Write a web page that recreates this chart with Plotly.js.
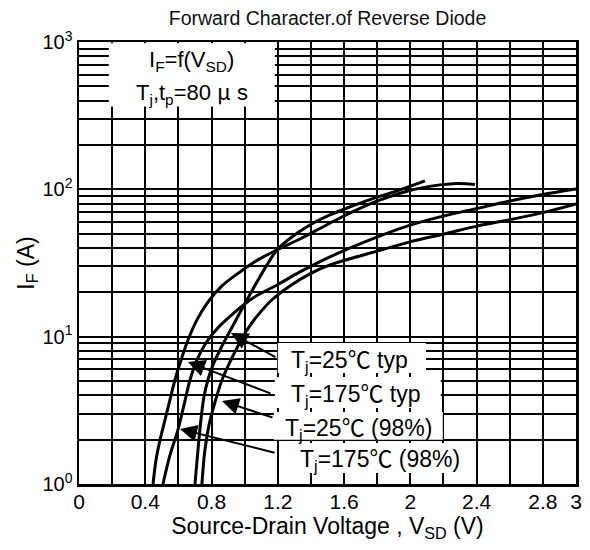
<!DOCTYPE html>
<html><head><meta charset="utf-8">
<script src="https://cdn.plot.ly/plotly-3.0.1.min.js"></script>
<style>html,body{margin:0;padding:0;background:#fff}</style>
</head><body><div id="chart" style="width:590px;height:550px"></div>
<script>
// Tj=175°C typ
const v175typ = [0.447,0.465,0.489,0.519,0.549,0.579,0.616,0.658,0.712,0.779,0.863,0.972,1.080,1.195,1.334,1.454,1.575,1.786,1.986,2.179,2.287,2.390];
const i175typ = [1.00,1.46,1.99,2.72,3.72,5.08,6.95,9.50,13.0,17.2,22.1,27.5,33.2,38.8,46.0,54.2,63.9,82.1,97.5,107.2,109.7,108.0];
// Tj=25°C typ
const v25typ = [0.700,0.718,0.736,0.754,0.778,0.809,0.851,0.899,0.954,1.014,1.074,1.135,1.195,1.285,1.394,1.515,1.636,1.786,1.937,2.088];
const i25typ = [1.00,1.70,2.72,3.90,5.08,6.43,8.12,10.3,13.4,17.8,23.5,30.7,38.8,47.5,57.3,67.0,76.0,87.5,99.1,114.0];
// Tj=175°C (98%)
const v175w = [0.507,0.549,0.597,0.634,0.670,0.712,0.766,0.839,0.929,1.050,1.195,1.334,1.515,1.786,1.986,2.179,2.390,2.601,2.782,3.0];
const i175w = [1.00,1.57,2.33,3.44,5.08,6.95,9.06,11.5,14.3,18.3,22.4,27.5,34.8,46.8,56.5,65.0,73.6,83.4,91.6,100.6];
// Tj=25°C (98%)
const v25w = [0.742,0.760,0.785,0.821,0.863,0.911,0.960,1.014,1.080,1.165,1.273,1.394,1.515,1.804,1.998,2.203,2.408,2.625,2.818,3.0];
const i25w = [1.00,1.70,2.52,3.60,5.08,6.73,8.65,11.1,14.0,17.8,22.1,26.7,30.7,38.2,44.0,49.8,56.5,63.0,70.3,79.6];

const seriesNames = ['Tj=175℃ typ','Tj=25℃ typ','Tj=175℃ (98%)','Tj=25℃ (98%)'];

const xTickVals = [0,0.2,0.4,0.6,0.8,1.0,1.2,1.4,1.6,1.8,2.0,2.2,2.4,2.6,2.8,3.0];
const xTickText = ['0','','0.4','','0.8','','1.2','','1.6','','2','','2.4','','2.8','3'];
const yTickVals = [1,2,3,4,5,6,7,8,9,10,20,30,40,50,60,70,80,90,100,200,300,400,500,600,700,800,900,1000];
const yTickText = ['10<sup>0</sup>','','','','','','','','','10<sup>1</sup>','','','','','','','','','10<sup>2</sup>','','','','','','','','','10<sup>3</sup>'];

const FONT = 'Liberation Sans, Arial, sans-serif';
const CJK = "font-family:'Noto Sans CJK JP'";
const degC = '<span style="' + CJK + '">℃</span>';
const mu = '<span style="' + CJK + '">μ</span>';

const lineStyle = {color:'#000', width:3, shape:'spline', smoothing:1};

const data = [
  {x:v175typ, y:i175typ, name:seriesNames[0]},
  {x:v25typ, y:i25typ, name:seriesNames[1]},
  {x:v175w, y:i175w, name:seriesNames[2]},
  {x:v25w, y:i25w, name:seriesNames[3]}
].map(t => Object.assign(t, {type:'scatter', mode:'lines', line:lineStyle, hoverinfo:'skip'}));

function arrow(xv, yv, ax, ay){
  return {x:xv, y:Math.log10(yv), xref:'x', yref:'y', text:'', showarrow:true,
    arrowhead:2, arrowsize:1.7, arrowwidth:2, arrowcolor:'#000', ax:ax, ay:ay, standoff:0, startstandoff:0};
}
function whiteBox(x0, x1, y0, y1){
  return {type:'rect', xref:'paper', yref:'paper', x0:x0, x1:x1, y0:y0, y1:y1,
    fillcolor:'#fff', line:{width:0}, layer:'above'};
}
function label(txt, xp, yp, size){
  return {x:xp, y:yp, xref:'paper', yref:'paper', text:txt, showarrow:false,
    xanchor:'center', yanchor:'middle', font:{family:FONT, size:size || 23, color:'#000'}};
}

const shapes = [
  whiteBox(0.060, 0.394, 0.854, 0.997),
  whiteBox(0.400, 0.698, 0.251, 0.319),
  whiteBox(0.394, 0.728, 0.172, 0.242),
  whiteBox(0.392, 0.732, 0.100, 0.163),
  whiteBox(0.425, 0.783, 0.025, 0.093)
];

const annotations = [
  arrow(0.917, 10.6, 46, 25),
  arrow(0.658, 6.73, 84, 32),
  arrow(0.863, 3.66, 52, 17),
  arrow(0.610, 2.36, 96, 24),
  label('I<sub>F</sub>=f(V<sub>SD</sub>)', 0.227, 0.957, 22),
  label('T<sub>j</sub>,t<sub>p</sub>=80 ' + mu + ' s', 0.227, 0.890, 22),
  label('T<sub>j</sub>=25' + degC + ' typ', 0.545, 0.285),
  label('T<sub>j</sub>=175' + degC + ' typ', 0.557, 0.206),
  label('T<sub>j</sub>=25' + degC + ' (98%)', 0.562, 0.131),
  label('T<sub>j</sub>=175' + degC + ' (98%)', 0.606, 0.059)
];

const layout = {
  width:590, height:550,
  margin:{l:79, r:14, t:42, b:66, pad:0},
  paper_bgcolor:'#fff', plot_bgcolor:'#fff',
  showlegend:false,
  font:{family:FONT, color:'#000', size:21},
  title:{text:'Forward Character.of Reverse Diode', x:0.5, xref:'paper', y:0.967, yref:'container', yanchor:'middle',
         font:{family:FONT, size:19.5, color:'#111'}},
  xaxis:{range:[0,3], tickmode:'array', tickvals:xTickVals, ticktext:xTickText,
    showgrid:true, gridcolor:'#000', gridwidth:2, zeroline:false,
    showline:true, linecolor:'#000', linewidth:2.5, mirror:true, ticks:'',
    ticklabelstandoff:-3,
    tickfont:{family:FONT, size:21, color:'#000'},
    title:{text:'Source-Drain Voltage , V<sub>SD</sub> (V)', font:{family:FONT, size:23, color:'#000'}, standoff:0}},
  yaxis:{type:'log', range:[0,3], tickmode:'array', tickvals:yTickVals, ticktext:yTickText,
    showgrid:true, gridcolor:'#000', gridwidth:2, zeroline:false,
    showline:true, linecolor:'#000', linewidth:2.5, mirror:true, ticks:'',
    tickfont:{family:FONT, size:20, color:'#000'},
    title:{text:'I<sub>F</sub> (A)', font:{family:FONT, size:23, color:'#000'}, standoff:2}},
  shapes:shapes,
  annotations:annotations
};

Plotly.newPlot('chart', data, layout, {staticPlot:true, displayModeBar:false});
</script>
</body></html>
